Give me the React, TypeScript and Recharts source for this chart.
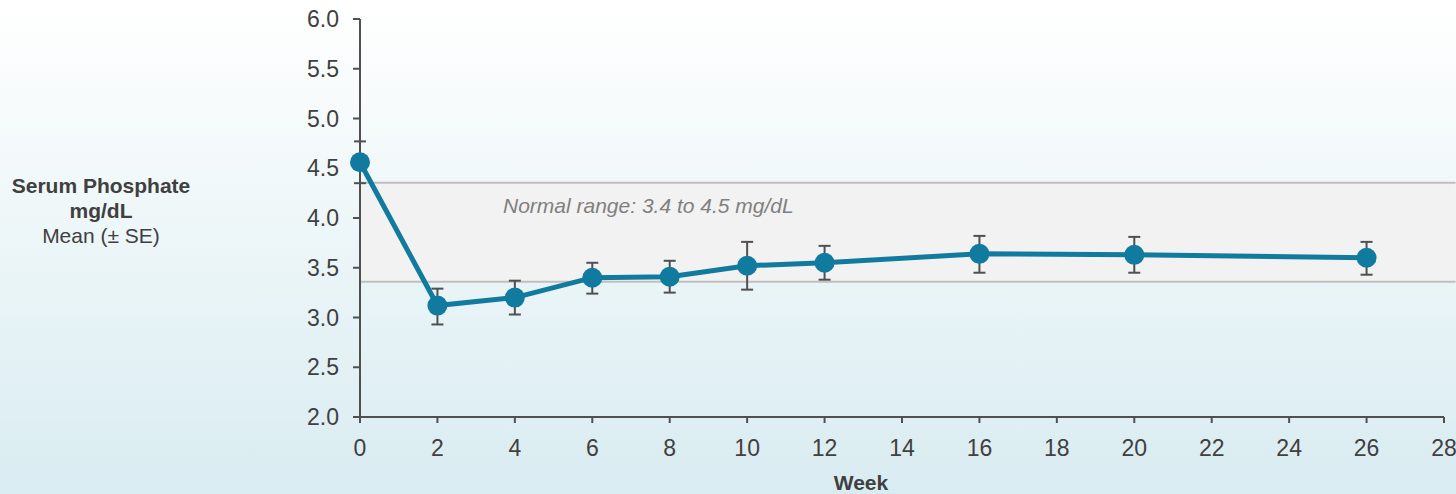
import React from 'react';
import { LineChart, Line, XAxis, YAxis, ErrorBar, ReferenceArea, ReferenceLine } from 'recharts';

const weeks = [0, 2, 4, 6, 8, 10, 12, 16, 20, 26];
const meanValues = [4.56, 3.12, 3.2, 3.4, 3.41, 3.52, 3.55, 3.64, 3.63, 3.6];
const seUpper = [4.77, 3.29, 3.37, 3.55, 3.57, 3.76, 3.72, 3.82, 3.81, 3.76];
const seLower = [4.35, 2.93, 3.03, 3.24, 3.25, 3.28, 3.38, 3.45, 3.45, 3.43];
const xTicks = [0, 2, 4, 6, 8, 10, 12, 14, 16, 18, 20, 22, 24, 26, 28];
const yTicks = [2.0, 2.5, 3.0, 3.5, 4.0, 4.5, 5.0, 5.5, 6.0];
const normalLow = 3.36;
const normalHigh = 4.355;
const normalLabel = 'Normal range: 3.4 to 4.5 mg/dL';
const yTitle = ['Serum Phosphate', 'mg/dL', 'Mean (\u00b1 SE)'];
const xTitle = 'Week';

const data = weeks.map((w, i) => ({
  week: w,
  mean: meanValues[i],
  err: [+(meanValues[i] - seLower[i]).toFixed(3), +(seUpper[i] - meanValues[i]).toFixed(3)],
}));

const FONT = '"Liberation Sans", Arial, Helvetica, sans-serif';
const AXIS = '#505050';
const TEXT = '#404040';
const LINE = '#107a9f';

export default function App() {
  return (
    <div
      style={{
        position: 'absolute',
        left: 0,
        top: 0,
        width: 1456,
        height: 494,
        background: 'linear-gradient(to bottom, #ffffff 0%, #d9ecf1 100%)',
        fontFamily: FONT,
      }}
    >
      <LineChart width={1456} height={494} data={data} margin={{ top: 19, right: 12, left: 0, bottom: 0 }}>
        <ReferenceArea
          x1={0}
          x2={28.3}
          y1={normalLow}
          y2={normalHigh}
          fill="#f2f2f2"
          fillOpacity={1}
          stroke="none"
          ifOverflow="visible"
          label={{
            content: () => (
              <text x={503} y={213} fontSize={21} fontStyle="italic" fill="#808080" fontFamily={FONT}>
                {normalLabel}
              </text>
            ),
          }}
        />
        <ReferenceLine
          segment={[{ x: 0, y: normalHigh }, { x: 28.3, y: normalHigh }]}
          stroke="#bfbfbf"
          strokeWidth={2}
          ifOverflow="visible"
        />
        <ReferenceLine
          segment={[{ x: 0, y: normalLow }, { x: 28.3, y: normalLow }]}
          stroke="#bfbfbf"
          strokeWidth={2}
          ifOverflow="visible"
        />
        <XAxis
          dataKey="week"
          type="number"
          domain={[0, 28]}
          ticks={xTicks}
          interval={0}
          height={77}
          axisLine={{ stroke: AXIS, strokeWidth: 2 }}
          tickLine={{ stroke: AXIS, strokeWidth: 2 }}
          tickSize={6}
          tickMargin={17}
          tick={{ fill: TEXT, fontSize: 23, fontFamily: FONT }}
          label={{
            content: () => (
              <text x={861} y={490} textAnchor="middle" fontSize={21} fontWeight="bold" fill={TEXT} fontFamily={FONT}>
                {xTitle}
              </text>
            ),
          }}
        />
        <YAxis
          type="number"
          domain={[2, 6]}
          ticks={yTicks}
          interval={0}
          width={360}
          axisLine={{ stroke: AXIS, strokeWidth: 2 }}
          tickLine={{ stroke: AXIS, strokeWidth: 2 }}
          tickSize={7}
          tickMargin={14}
          tickFormatter={(v: number) => v.toFixed(1)}
          tick={{ fill: TEXT, fontSize: 23, fontFamily: FONT }}
          label={{
            content: () => (
              <text textAnchor="middle" fill={TEXT} fontFamily={FONT} fontSize={21}>
                <tspan x={101} y={193} fontWeight="bold">{yTitle[0]}</tspan>
                <tspan x={101} y={218} fontWeight="bold">{yTitle[1]}</tspan>
                <tspan x={101} y={243}>{yTitle[2]}</tspan>
              </text>
            ),
          }}
        />
        <Line
          dataKey="mean"
          stroke={LINE}
          strokeWidth={5}
          dot={{ r: 10, fill: LINE, stroke: 'none' }}
          activeDot={false}
          isAnimationActive={false}
        >
          <ErrorBar dataKey="err" direction="y" width={6} stroke={AXIS} strokeWidth={2} />
        </Line>
      </LineChart>
    </div>
  );
}
